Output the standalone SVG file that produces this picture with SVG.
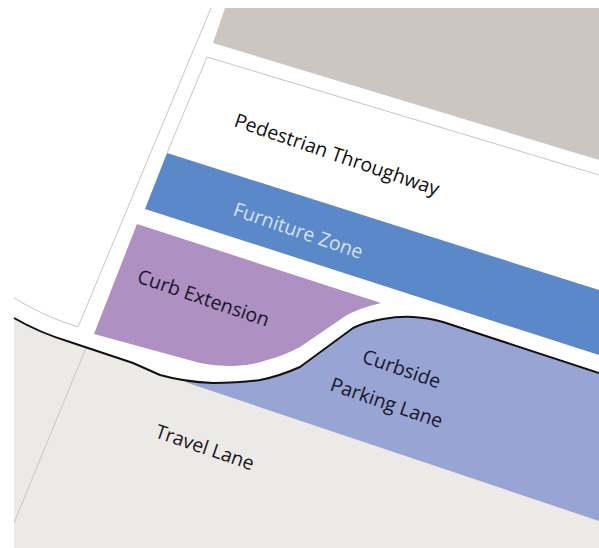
<svg xmlns="http://www.w3.org/2000/svg" width="599" height="548" viewBox="0 0 599 548">
<style>
.t{font-family:"Open Sans","Noto Sans",sans-serif;font-size:19.5px;fill:#1a1626}
.f{stroke:#c9c6c2;stroke-width:1;fill:none}
</style>
<rect width="599" height="548" fill="#fff"/>
<g id="building"><path d="M225 8H599V160L213 43Z" fill="#cbc6c2"/></g>
<g id="travel-lane"><path d="M14 318Q40 333 70 342L133 363L160 375Q185 382 213 383Q240 383 260 380Q280 376 300 367L353 328Q365 322 383 319Q400 316 413 317Q430 318 443 322L599 373V548H14Z" fill="#eceae7"/>
<text class="t" transform="translate(154 437) rotate(19)" textLength="103">Travel Lane</text></g>
<g id="parking-lane"><path d="M185 382Q200 383 213 383Q240 383 260 380Q280 376 300 367L353 328Q365 322 383 319Q400 316 413 317Q430 318 443 322L599 373V521Z" fill="#97a4d4"/>
<text class="t" transform="translate(361 362) rotate(19)">Curbside</text>
<text class="t" transform="translate(329 390) rotate(19)">Parking Lane</text></g>
<g id="furniture-zone"><path d="M167 153L599 290V355L145 209Z" fill="#5b88c8"/>
<text class="t" transform="translate(232 215) rotate(19)" style="fill:#d8e2f4">Furniture Zone</text></g>
<g id="curb-extension"><path d="M137 224L381 303Q360 308 347 315L300 347Q283 356 267 360Q250 366 233 366Q215 366 200 363L94 334Z" fill="#ae90c2"/>
<text class="t" transform="translate(136 282) rotate(19)">Curb Extension</text></g>
<g id="pedestrian-throughway"><text class="t" transform="translate(233 126) rotate(19)" style="fill:#111">Pedestrian Throughway</text></g>
<g id="connectors">
<path class="f" d="M599 175L207 57L167 153"/>
<path class="f" d="M211 8L78 327"/>
<path class="f" d="M14 298Q45 317 78 327"/>
<path class="f" d="M86 348L14 523"/>
<path d="M14 318Q40 333 70 342L133 363L160 375Q185 382 213 383Q240 383 260 380Q280 376 300 367L353 328Q365 322 383 319Q400 316 413 317Q430 318 443 322L599 373" fill="none" stroke="#111" stroke-width="2"/>
</g>
</svg>
